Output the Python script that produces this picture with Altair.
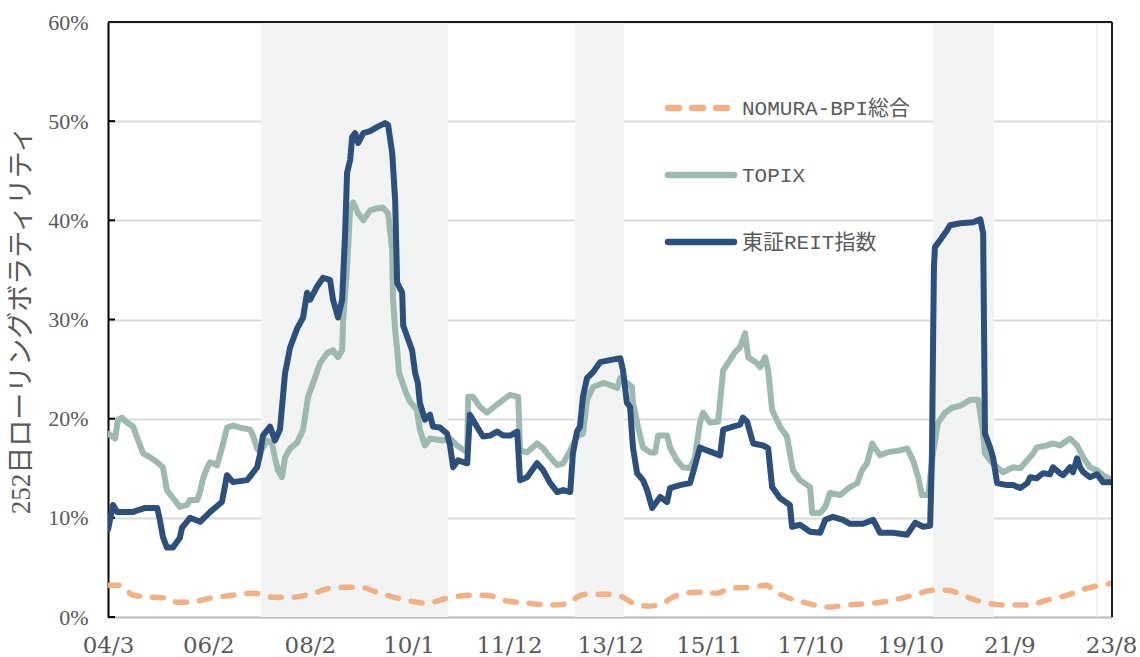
import altair as alt
import pandas as pd

# 東証REIT指数: 252日ローリングボラティリティ (%)
reit_dates = [
    "2004-03-01", "2004-04-06", "2004-05-04", "2004-08-26", "2004-11-20", "2005-02-13",
    "2005-03-04", "2005-03-25", "2005-04-23", "2005-06-05", "2005-07-24", "2005-08-08",
    "2005-10-04", "2005-12-14", "2006-02-24", "2006-05-18", "2006-06-23", "2006-08-05",
    "2006-11-13", "2007-01-23", "2007-02-14", "2007-03-05", "2007-04-24", "2007-05-29",
    "2007-07-04", "2007-08-09", "2007-09-14", "2007-11-03", "2007-12-15", "2008-01-12",
    "2008-02-03", "2008-03-22", "2008-05-04", "2008-06-23", "2008-07-14", "2008-08-19",
    "2008-09-17", "2008-10-08", "2008-10-22", "2008-11-13", "2008-11-27", "2008-12-18",
    "2009-01-09", "2009-02-14", "2009-04-03", "2009-05-22", "2009-07-18", "2009-08-09",
    "2009-09-07", "2009-09-28", "2009-10-12", "2009-11-17", "2009-11-24", "2010-01-26",
    "2010-02-17", "2010-03-08", "2010-03-22", "2010-04-27", "2010-06-02", "2010-06-23",
    "2010-08-12", "2010-10-01", "2010-10-22", "2010-11-13", "2010-12-18", "2011-02-21",
    "2011-03-12", "2011-05-01", "2011-06-13", "2011-08-02", "2011-09-21", "2011-11-03",
    "2011-12-22", "2012-02-11", "2012-03-02", "2012-04-21", "2012-06-30", "2012-08-13",
    "2012-10-02", "2012-11-21", "2013-01-02", "2013-02-21", "2013-03-12", "2013-04-10",
    "2013-05-01", "2013-05-22", "2013-06-20", "2013-08-02", "2013-09-21", "2013-11-30",
    "2014-02-11", "2014-03-02", "2014-03-30", "2014-04-21", "2014-05-12", "2014-06-10",
    "2014-07-22", "2014-08-20", "2014-09-25", "2014-11-21", "2015-01-09", "2015-01-30",
    "2015-04-10", "2015-06-20", "2015-07-11", "2015-08-30", "2015-10-19", "2016-01-20",
    "2016-02-11", "2016-04-21", "2016-06-10", "2016-06-30", "2016-07-29", "2016-09-11",
    "2016-11-21", "2016-12-26", "2017-01-23", "2017-03-19", "2017-05-29", "2017-06-13",
    "2017-08-09", "2017-10-19", "2017-12-30", "2018-02-04", "2018-03-30", "2018-06-10",
    "2018-07-29", "2018-10-30", "2019-01-10", "2019-02-28", "2019-05-30", "2019-09-08",
    "2019-11-04", "2019-12-30", "2020-02-18", "2020-03-02", "2020-03-09", "2020-03-16",
    "2020-03-23", "2020-04-28", "2020-06-17", "2020-07-08", "2020-09-18", "2020-12-19",
    "2021-02-08", "2021-02-28", "2021-03-13", "2021-04-18", "2021-05-09", "2021-06-07",
    "2021-08-17", "2021-09-29", "2021-11-18", "2022-01-07", "2022-01-28", "2022-03-16",
    "2022-04-28", "2022-06-17", "2022-07-08", "2022-08-27", "2022-09-18", "2022-11-07",
    "2022-11-28", "2022-12-26", "2023-01-17", "2023-02-08", "2023-03-27", "2023-05-16",
    "2023-06-07", "2023-06-28", "2023-08-31",
]
reit_values = [
    8.8, 11.3, 10.6, 10.6, 11.0, 11.0,
    9.8, 8.1, 7.0, 7.0, 8.0, 9.0,
    10.0, 9.6, 10.6, 11.6, 14.3, 13.6,
    13.8, 15.1, 16.5, 18.3, 19.2, 17.8,
    18.9, 24.6, 27.2, 29.1, 30.2, 32.7,
    32.0, 33.3, 34.2, 34.0, 32.0, 30.2,
    32.0, 38.7, 44.8, 46.1, 48.4, 48.8,
    47.8, 48.8, 49.0, 49.4, 49.8, 49.6,
    46.8, 42.0, 33.7, 32.7, 29.4, 26.9,
    24.6, 23.6, 21.6, 19.9, 20.4, 19.2,
    19.1, 18.5, 17.3, 15.1, 15.8, 15.5,
    20.4, 19.2, 18.2, 18.3, 18.7, 18.3,
    18.3, 18.7, 13.8, 14.1, 15.5, 14.8,
    13.5, 12.6, 12.8, 12.6, 16.5, 18.7,
    19.2, 22.2, 24.1, 24.7, 25.7, 25.9,
    26.1, 24.9, 21.6, 21.2, 17.1, 14.5,
    13.8, 12.8, 11.0, 12.1, 11.6, 13.0,
    13.3, 13.5, 14.5, 17.1, 16.8, 16.3,
    18.9, 19.2, 19.4, 20.1, 19.7, 17.5,
    17.3, 17.0, 13.1, 12.0, 11.3, 9.1,
    9.3, 8.6, 8.5, 9.8, 10.1, 9.8,
    9.4, 9.4, 9.8, 8.5, 8.5, 8.3,
    9.5, 9.1, 9.2, 16.5, 26.6, 35.3,
    37.3, 38.0, 39.0, 39.5, 39.7, 39.8,
    40.1, 38.7, 18.5, 17.1, 16.1, 13.5,
    13.3, 13.3, 13.0, 13.5, 14.1, 14.0,
    14.5, 14.4, 15.1, 14.5, 14.3, 15.1,
    14.6, 16.0, 15.1, 14.6, 14.1, 14.4,
    14.0, 13.6, 13.6,
]

# TOPIX (%)
topix_dates = [
    "2004-03-01", "2004-04-20", "2004-05-11", "2004-06-09", "2004-07-14", "2004-08-26",
    "2004-10-01", "2004-11-06", "2004-12-25", "2005-02-13", "2005-03-25", "2005-04-23",
    "2005-06-05", "2005-07-24", "2005-09-13", "2005-10-04", "2005-11-24", "2005-12-14",
    "2006-01-05", "2006-02-03", "2006-02-24", "2006-04-13", "2006-05-18", "2006-06-23",
    "2006-08-05", "2006-09-24", "2006-12-04", "2006-12-25", "2007-01-23", "2007-02-14",
    "2007-04-03", "2007-05-08", "2007-05-29", "2007-06-20", "2007-07-18", "2007-08-09",
    "2007-09-14", "2007-11-03", "2007-12-15", "2008-01-19", "2008-02-24", "2008-04-13",
    "2008-06-02", "2008-07-14", "2008-08-19", "2008-09-17", "2008-09-24", "2008-10-22",
    "2008-11-13", "2008-12-04", "2009-01-09", "2009-02-14", "2009-04-03", "2009-05-22",
    "2009-07-03", "2009-08-09", "2009-09-07", "2009-09-13", "2009-09-28", "2009-10-12",
    "2009-10-26", "2009-12-14", "2010-01-12", "2010-03-01", "2010-03-22", "2010-04-27",
    "2010-06-02", "2010-09-03", "2010-10-22", "2010-12-11", "2011-02-21", "2011-02-28",
    "2011-04-03", "2011-05-22", "2011-07-11", "2011-08-23", "2011-11-03", "2011-12-22",
    "2012-02-18", "2012-03-02", "2012-04-21", "2012-06-30", "2012-08-13", "2012-10-02",
    "2012-11-21", "2013-01-02", "2013-02-21", "2013-04-10", "2013-05-22", "2013-06-20",
    "2013-08-02", "2013-10-12", "2013-11-30", "2014-01-20", "2014-02-11", "2014-03-30",
    "2014-05-05", "2014-05-12", "2014-06-16", "2014-07-22", "2014-09-11", "2014-10-16",
    "2014-11-07", "2015-01-09", "2015-01-30", "2015-03-19", "2015-05-01", "2015-06-20",
    "2015-07-25", "2015-08-30", "2015-09-21", "2015-11-10", "2016-01-06", "2016-02-11",
    "2016-03-30", "2016-05-05", "2016-06-10", "2016-07-15", "2016-08-06", "2016-10-09",
    "2016-10-30", "2016-12-05", "2016-12-26", "2017-01-23", "2017-03-19", "2017-05-08",
    "2017-06-20", "2017-08-09", "2017-10-19", "2017-11-03", "2017-12-30", "2018-02-04",
    "2018-03-09", "2018-05-19", "2018-07-29", "2018-09-18", "2018-10-23", "2018-11-27",
    "2019-01-03", "2019-01-24", "2019-02-28", "2019-04-18", "2019-07-19", "2019-09-08",
    "2019-10-20", "2019-11-25", "2019-12-22", "2020-02-04", "2020-03-09", "2020-04-14",
    "2020-06-03", "2020-07-22", "2020-09-18", "2020-11-28", "2021-01-24", "2021-02-22",
    "2021-03-13", "2021-04-18", "2021-06-07", "2021-07-19", "2021-09-29", "2021-11-18",
    "2022-01-07", "2022-02-18", "2022-03-16", "2022-05-26", "2022-07-08", "2022-08-27",
    "2022-10-16", "2022-11-07", "2022-12-26", "2023-02-08", "2023-03-27", "2023-05-16",
    "2023-06-28", "2023-08-31",
]
topix_values = [
    18.5, 18.0, 19.9, 20.1, 19.6, 19.2,
    17.8, 16.5, 16.1, 15.6, 15.1, 12.8,
    12.0, 11.1, 11.3, 11.8, 11.8, 12.6,
    14.0, 15.1, 15.6, 15.3, 17.0, 19.1,
    19.3, 19.1, 18.9, 18.3, 17.0, 16.6,
    17.8, 17.5, 16.1, 14.8, 14.1, 16.1,
    17.0, 17.6, 18.9, 22.2, 23.6, 25.6,
    26.6, 26.9, 26.2, 26.9, 29.9, 35.3,
    41.3, 41.8, 40.7, 40.0, 41.0, 41.2,
    41.3, 40.7, 37.0, 32.0, 28.9, 27.0,
    24.6, 22.6, 21.7, 20.9, 18.9, 17.3,
    18.0, 17.8, 18.0, 17.3, 16.6, 22.2,
    22.2, 21.2, 20.6, 21.1, 21.9, 22.4,
    22.2, 16.8, 16.6, 17.5, 17.0, 16.1,
    15.3, 15.5, 16.8, 18.2, 18.5, 21.9,
    23.2, 23.6, 23.4, 23.1, 24.1, 23.6,
    23.2, 21.6, 19.2, 17.1, 16.6, 16.6,
    18.3, 18.3, 17.1, 15.8, 15.1, 15.0,
    16.1, 19.6, 20.6, 19.6, 19.7, 24.9,
    25.9, 26.7, 27.2, 28.6, 26.2, 25.6,
    25.2, 26.2, 24.9, 20.9, 19.2, 18.2,
    14.8, 13.8, 13.1, 10.5, 10.5, 11.1,
    12.5, 12.3, 13.1, 13.5, 14.8, 15.5,
    17.5, 17.0, 16.3, 16.6, 16.8, 17.0,
    15.8, 14.1, 12.3, 12.3, 16.5, 19.6,
    20.6, 21.1, 21.3, 21.9, 21.9, 19.2,
    16.5, 15.8, 15.1, 14.6, 15.1, 15.0,
    15.8, 16.5, 17.1, 17.3, 17.5, 17.3,
    17.8, 18.0, 17.3, 16.1, 15.1, 14.8,
    14.3, 13.8,
]

# NOMURA-BPI総合 (%)
bpi_dates = [
    "2004-03-01", "2004-05-25", "2004-08-26", "2004-12-25", "2005-04-23", "2005-07-03",
    "2005-10-04", "2006-02-24", "2006-08-05", "2006-12-25", "2007-05-14", "2007-10-04",
    "2008-02-24", "2008-06-23", "2008-10-22", "2009-01-23", "2009-05-22", "2009-08-01",
    "2009-12-14", "2010-05-11", "2010-10-01", "2011-03-12", "2011-07-11", "2011-11-03",
    "2012-04-21", "2012-10-02", "2013-02-21", "2013-04-10", "2013-06-20", "2013-11-30",
    "2014-03-02", "2014-05-12", "2014-09-11", "2014-12-11", "2015-03-19", "2015-08-09",
    "2015-12-29", "2016-03-30", "2016-08-20", "2016-12-18", "2017-01-30", "2017-05-08",
    "2017-09-28", "2018-02-18", "2018-07-08", "2019-01-10", "2019-05-30", "2019-10-20",
    "2020-03-09", "2020-06-17", "2020-11-07", "2021-03-27", "2021-08-17", "2022-01-07",
    "2022-05-26", "2022-10-16", "2023-03-06", "2023-08-31",
]
bpi_values = [
    3.2, 3.2, 2.2, 2.0, 1.9, 1.5,
    1.5, 1.9, 2.2, 2.4, 2.0, 2.0,
    2.4, 2.9, 3.0, 3.0, 2.5, 2.2,
    1.7, 1.4, 1.9, 2.2, 2.2, 1.7,
    1.4, 1.2, 1.4, 2.0, 2.3, 2.3,
    2.0, 1.4, 1.1, 1.4, 2.2, 2.5,
    2.4, 2.9, 3.0, 3.2, 2.7, 2.0,
    1.4, 1.0, 1.2, 1.4, 1.7, 2.2,
    2.7, 2.7, 2.0, 1.4, 1.2, 1.2,
    1.7, 2.2, 2.9, 3.4,
]

# shaded periods
band_start = ["2007-02-20", "2013-03-26", "2020-03-09"]
band_end = ["2010-10-08", "2014-03-09", "2021-05-16"]
marker_date = ["2023-05-18"]

tick_dates = [
    "2004-03-01", "2006-02-10", "2008-02-01", "2010-01-01", "2011-12-15", "2013-12-01",
    "2015-11-01", "2017-10-20", "2019-10-01", "2021-09-01", "2023-08-25",
]
y_ticks = [0.0, 0.1, 0.2, 0.3, 0.4, 0.5, 0.6]

series_names = ["NOMURA-BPI総合", "TOPIX", "東証REIT指数"]
series_colors = ["#F2B185", "#9DB9B0", "#2C4F7C"]

W, H = 1004, 595
GREY_TEXT = "#595959"
LABEL_FONT = "Liberation Serif"
CJK_FONT = "Liberation Mono, Noto Sans CJK JP"


def to_dt(s):
    t = pd.Timestamp(s)
    return alt.DateTime(year=t.year, month=t.month, date=t.day, utc=True)


def frame(dates, values, name):
    return pd.DataFrame({"date": dates, "vol": [v / 100 for v in values], "series": name})


x_scale = alt.Scale(type="utc", domain=[to_dt("2004-03-01"), to_dt("2023-08-31")])
y_scale = alt.Scale(domain=[0, 0.6], nice=False)

x_axis = alt.Axis(
    values=[to_dt(d) for d in tick_dates], format="%y/%-m", title=None, grid=False,
    ticks=False, domainColor="#BFBFBF", domainWidth=2, labelFont="DejaVu Serif",
    labelFontSize=23, labelColor=GREY_TEXT, labelPadding=17, labelFlush=False,
    labelOverlap=False,
)
y_axis = alt.Axis(
    values=y_ticks, format=".0%", grid=True, gridColor="#D9D9D9", gridWidth=2,
    ticks=False, domainColor="#000000", domainWidth=2, labelFont=LABEL_FONT,
    labelFontSize=22, labelColor=GREY_TEXT, labelPadding=20,
    title="252日ローリングボラティリティ", titleFont="Liberation Serif, Noto Sans CJK JP",
    titleFontSize=27, titleFontWeight="normal", titleColor=GREY_TEXT, titlePadding=12,
)

bands_df = pd.DataFrame({"start": band_start, "end": band_end})
bands = alt.Chart(bands_df).mark_rect(color="#F2F4F3").encode(
    x=alt.X("start:T", scale=x_scale, axis=x_axis),
    x2="end:T",
    y=alt.value(0),
    y2=alt.value(H),
)

marker = alt.Chart(pd.DataFrame({"date": marker_date})).mark_rule(
    color="#ECECEC", strokeWidth=1.5
).encode(x=alt.X("date:T", scale=x_scale), y=alt.value(0), y2=alt.value(H))

y_tick_marks = alt.Chart(pd.DataFrame({"v": y_ticks})).mark_rule(
    color="#000000", strokeWidth=2
).encode(
    y=alt.Y("v:Q", scale=y_scale, axis=y_axis),
    x=alt.value(0),
    x2=alt.value(7),
)


def line(df, color, width, dash=None, interp="linear"):
    kw = dict(color=color, strokeWidth=width, strokeCap="round", strokeJoin="round",
              interpolate=interp, clip=True)
    if dash:
        kw["strokeDash"] = dash
    return alt.Chart(df).mark_line(**kw).encode(
        x=alt.X("date:T", scale=x_scale),
        y=alt.Y("vol:Q", scale=y_scale),
        order="date:T",
    )


bpi_line = line(frame(bpi_dates, bpi_values, series_names[0]), series_colors[0], 5.5,
                dash=[11, 13], interp="monotone")
topix_line = line(frame(topix_dates, topix_values, series_names[1]), series_colors[1], 6)
reit_line = line(frame(reit_dates, reit_values, series_names[2]), series_colors[2], 6)

one = pd.DataFrame({"k": [0]})

# frame: top and right edges
top_edge = alt.Chart(one).mark_rule(color="#1A1A1A", strokeWidth=2).encode(
    x=alt.value(0), x2=alt.value(W), y=alt.value(0))
right_edge = alt.Chart(one).mark_rule(color="#1A1A1A", strokeWidth=2).encode(
    x=alt.value(W), y=alt.value(0), y2=alt.value(H))

# legend drawn inside the plot area
legend_layers = []
legend_rows = [86, 153, 220]
for i, (name, color) in enumerate(zip(series_names, series_colors)):
    ly = legend_rows[i]
    rule_kw = dict(color=color, strokeWidth=6.5, strokeCap="round")
    if i == 0:
        rule_kw["strokeDash"] = [11, 13]
        x_end = 619
    else:
        x_end = 626
    legend_layers.append(
        alt.Chart(one).mark_rule(**rule_kw).encode(
            x=alt.value(560), x2=alt.value(x_end), y=alt.value(ly))
    )
    legend_layers.append(
        alt.Chart(one).mark_text(
            align="left", baseline="middle", font=CJK_FONT, fontSize=21, color=GREY_TEXT
        ).encode(x=alt.value(634), y=alt.value(ly + 1), text=alt.value(name))
    )

chart = alt.layer(
    bands, marker, y_tick_marks, bpi_line, topix_line, reit_line,
    top_edge, right_edge, *legend_layers,
).properties(
    width=W, height=H,
    autosize=alt.AutoSizeParams(type="none"),
    padding={"left": 108, "top": 22, "right": 28, "bottom": 40},
    background="#FFFFFF",
).configure_view(stroke=None)

chart.save("out.html", embed_options={"renderer": "svg", "actions": False})
